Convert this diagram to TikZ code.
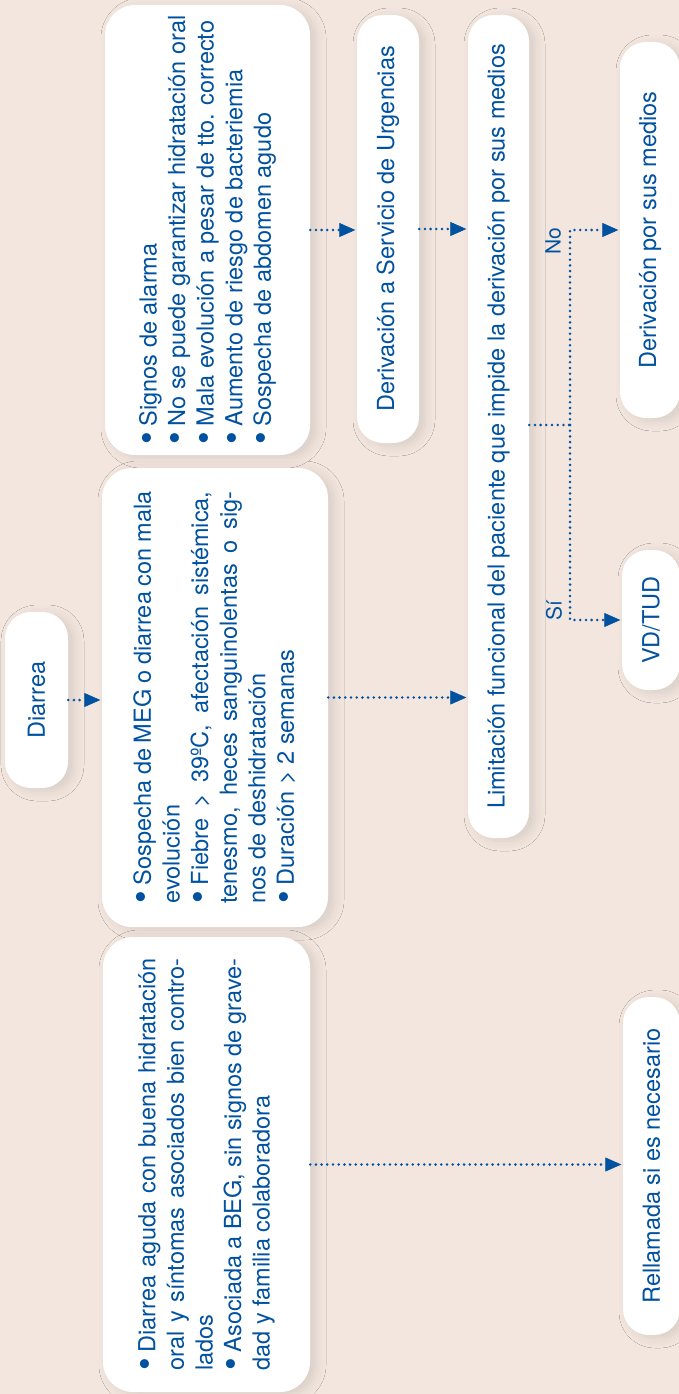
\documentclass[tikz,border=0pt]{standalone}
\usepackage{fontspec}
\usepackage{graphicx}
\setmainfont{TeX Gyre Heros}
\usetikzlibrary{arrows.meta,shadows.blur}
\definecolor{bg}{RGB}{242,230,222}
\definecolor{tx}{RGB}{0,82,160}
\newcommand{\rt}[1]{\rotatebox{90}{#1}}
\newcommand{\bul}{\raisebox{-2.6pt}{\scalebox{1.55}{•}}\kern5.5pt}
\tikzset{
  box/.style={fill=white, rounded corners=30pt, inner sep=0pt, text=tx,
    font=\fontsize{23.5}{28.6}\selectfont,
    blur shadow={shadow xshift=6pt, shadow yshift=-3pt, shadow blur radius=10pt, shadow opacity=10}},
  pill/.style={box, rounded corners=26pt},
  dotline/.style={draw=tx, line width=2.8pt, dash pattern=on 0pt off 5.7pt, line cap=round},
  conn/.style={dotline, -{Triangle[length=16pt,width=14pt,line width=0.5pt]}, shorten >=1.5pt},
  lbl/.style={text=tx, rotate=90, inner sep=0pt, font=\fontsize{21}{24}\selectfont}
}
\begin{document}
\begin{tikzpicture}[x=1pt,y=-1pt]
\useasboundingbox (0,0) rectangle (679,1394);
\fill[bg] (0,0) rectangle (679,1394);

% column 1
\node[pill, minimum width=63pt, minimum height=176pt] (diarrea) at (36.5,700) {\rt{Diarrea}};

% column 2
\node[box, minimum width=205pt, minimum height=450pt] (signos) at (207.5,230)
  {\rt{\parbox{410pt}{\hbox{\bul Signos de alarma}\hbox{\bul No se puede garantizar hidratación oral}\hbox{\bul Mala evolución a pesar de tto. correcto}\hbox{\bul Aumento de riesgo de bacteriemia}\hbox{\bul Sospecha de abdomen agudo}}}};
\node[box, minimum width=226pt, minimum height=459pt] (sospecha) at (215,697.5)
  {\rt{\parbox{412pt}{\bul Sospecha de MEG o diarrea con mala\linebreak evolución\par \bul Fiebre > 39ºC, afectación sistémica,\linebreak tenesmo, heces sanguinolentas o sig-\linebreak nos de deshidratación\par \bul Duración > 2 semanas}}};
\node[box, minimum width=207pt, minimum height=455pt] (aguda) at (206.5,1164.5)
  {\rt{\parbox{412pt}{\bul Diarrea aguda con buena hidratación\linebreak oral y síntomas asociados bien contro-\linebreak lados\par \bul Asociada a BEG, sin signos de grave-\linebreak dad y familia colaboradora}}};

% column 3
\node[pill, minimum width=62pt, minimum height=428pt] (deru) at (388,229) {\rt{Derivación a Servicio de Urgencias}};

% column 4
\node[pill, minimum width=61pt, minimum height=823pt] (limit) at (498.5,426.5) {\rt{Limitación funcional del paciente que impide la derivación por sus medios}};

% column 5
\node[pill, minimum width=60pt, minimum height=376pt] (medios) at (650,230) {\rt{Derivación por sus medios}};
\node[pill, minimum width=58pt, minimum height=140pt] (vdtud) at (651,620) {\rt{VD/TUD}};
\node[pill, minimum width=57pt, minimum height=338pt] (rell) at (651.5,1166) {\rt{Rellamada si es necesario}};

% connectors
\draw[conn] (diarrea.east) -- (diarrea.east -| sospecha.west);
\draw[conn] (signos.east) -- (signos.east -| deru.west);
\draw[conn] (deru.east) -- (deru.east -| limit.west);
\draw[conn] (sospecha.east) -- (sospecha.east -| limit.west);
\draw[conn] (aguda.east) -- (aguda.east -| rell.west);

\coordinate (br) at (570,425);
\draw[dotline] (limit.east |- br) -- (br);
\draw[conn] (br) |- (medios.west);
\draw[conn] (br) |- (vdtud.west);

\node[lbl] (no) at (553,241) {No};
\node[lbl] (si) at (554,611) {Sí};
\end{tikzpicture}
\end{document}
